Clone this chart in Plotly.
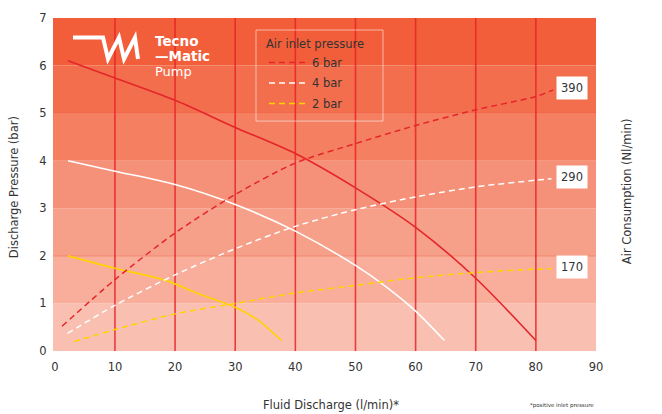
import plotly.graph_objects as go

# ---------------- data ----------------
flow_6bar = [2.2, 10, 20, 30, 40, 50, 60, 70, 80]
pressure_6bar = [6.1, 5.74, 5.27, 4.7, 4.15, 3.43, 2.6, 1.53, 0.22]

flow_4bar = [2.2, 10, 20, 30, 40, 50, 55, 60, 64.8]
pressure_4bar = [4.0, 3.78, 3.5, 3.08, 2.52, 1.8, 1.36, 0.84, 0.22]

flow_2bar = [2.2, 10, 18.3, 24, 30, 34, 37.7]
pressure_2bar = [2.0, 1.74, 1.49, 1.2, 0.92, 0.63, 0.22]

air_flow_6bar = [1.2, 10, 20, 30, 40, 50, 60, 70, 80, 82.9]
air_6bar = [0.52, 1.5, 2.48, 3.29, 3.95, 4.36, 4.74, 5.07, 5.35, 5.49]

air_flow_4bar = [2.1, 10, 20, 30, 40, 50, 60, 70, 80, 82.6]
air_4bar = [0.37, 0.96, 1.6, 2.15, 2.62, 2.97, 3.24, 3.45, 3.59, 3.62]

air_flow_2bar = [3.2, 10, 20, 30, 40, 50, 60, 70, 80, 82.6]
air_2bar = [0.2, 0.45, 0.78, 1.0, 1.22, 1.38, 1.54, 1.65, 1.72, 1.73]

series_names = ["6 bar", "4 bar", "2 bar"]
air_labels = ["390", "290", "170"]
label_x = 86

x_ticks = [0, 10, 20, 30, 40, 50, 60, 70, 80, 90]
y_ticks = [0, 1, 2, 3, 4, 5, 6, 7]
grid_x = [10, 20, 30, 40, 50, 60, 70, 80]
band_colors = ["#F9C0B1", "#F8AE9B", "#F6A08A", "#F59179", "#F47F61", "#F36E4D", "#F25E3A"]
band_lines = [2, 5]

# ---------------- styling ----------------
RED = "#E5252A"
WHITE = "#FFFFFF"
YELLOW = "#FFD200"
colors = [RED, WHITE, YELLOW]
FONT = "DejaVu Sans, Verdana, sans-serif"
TXT = "#333333"

fig = go.Figure()

solid = [(flow_6bar, pressure_6bar), (flow_4bar, pressure_4bar), (flow_2bar, pressure_2bar)]
dashed = [(air_flow_6bar, air_6bar), (air_flow_4bar, air_4bar), (air_flow_2bar, air_2bar)]

for (xs, ys), c, n in zip(solid, colors, series_names):
    fig.add_trace(go.Scatter(x=xs, y=ys, mode="lines", name=n, showlegend=False,
                             line=dict(color=c, width=1.6, shape="spline", smoothing=0.8),
                             hoverinfo="skip"))

for (xs, ys), c, n in zip(dashed, colors, series_names):
    fig.add_trace(go.Scatter(x=xs, y=ys, mode="lines", name=n, showlegend=True, legendgroup=n,
                             line=dict(color=c, width=1.5, dash="6px,4px", shape="spline", smoothing=0.8),
                             hoverinfo="skip"))


def px(xp, yp):
    """pixel position (reference picture) -> paper coordinates"""
    return (xp - 53) / 543, (350.7 - yp) / 332.7


shapes = []
# background bands
for i, col in enumerate(band_colors):
    shapes.append(dict(type="rect", xref="paper", yref="y", x0=0, x1=1, y0=y_ticks[i], y1=y_ticks[i + 1],
                       fillcolor=col, line=dict(width=0), layer="below"))
for yv in band_lines:
    shapes.append(dict(type="line", xref="paper", yref="y", x0=0, x1=1, y0=yv, y1=yv,
                       line=dict(color="rgba(238,85,55,0.55)", width=1), layer="below"))
# vertical red grid
for xv in grid_x:
    shapes.append(dict(type="line", xref="x", yref="paper", x0=xv, x1=xv, y0=0, y1=1,
                       line=dict(color="rgba(232,35,40,0.85)", width=1.6), layer="below"))

# legend frame
lx0, ly0 = px(256, 30)
lx1, ly1 = px(383, 121)
shapes.append(dict(type="rect", xref="paper", yref="paper", x0=lx0, x1=lx1, y0=ly1, y1=ly0,
                   line=dict(color="rgba(255,255,255,0.55)", width=1), fillcolor="rgba(0,0,0,0)",
                   layer="below"))

# logo mark
logo_pts = [(73, 37.5), (103, 37.5), (108, 59), (119, 37.5), (124, 59), (135, 37.5), (138, 59)]
path = ""
for k, (a, b) in enumerate(logo_pts):
    u, v = px(a, b)
    path += ("M" if k == 0 else "L") + f"{u:.4f},{v:.4f} "
shapes.append(dict(type="path", xref="paper", yref="paper", path=path.strip(),
                   line=dict(color=WHITE, width=4), layer="above"))

annotations = []
# air consumption value boxes
for (xs, ys), lab in zip(dashed, air_labels):
    annotations.append(dict(x=label_x, y=ys[-1], xref="x", yref="y", text=lab, showarrow=False,
                            font=dict(family=FONT, size=11.5, color=TXT), bgcolor="white",
                            borderpad=4, yshift=2))


def ann(xp, yp, text, size, color=TXT, angle=0, xanchor="center", family=FONT, weight=None):
    u, v = px(xp, yp)
    f = dict(family=family, size=size, color=color)
    if weight:
        f["weight"] = weight
    annotations.append(dict(x=u, y=v, xref="paper", yref="paper", text=text, showarrow=False,
                            textangle=angle, xanchor=xanchor, yanchor="middle", font=f))


ann(14, 187, "Discharge Pressure (bar)", 11.5, angle=-90)
ann(627, 191, "Air Consumption (Nl/min)", 11.5, angle=-90)
ann(331, 405, "Fluid Discharge (l/min)*", 11.5)
ann(596, 405, "*positive inlet pressure", 5.5, xanchor="right")
ann(153, 41, "Tecno", 13.5, color=WHITE, xanchor="left", family="DejaVu Sans", weight="bold")
ann(153, 56, "\u2014Matic", 13.5, color=WHITE, xanchor="left", family="DejaVu Sans", weight="bold")
ann(153, 71, "Pump", 13, color=WHITE, xanchor="left", family="DejaVu Sans")

lgx, lgy = px(264, 33)
fig.update_layout(
    width=662, height=414,
    margin=dict(l=53, r=66, t=18, b=63, pad=0),
    paper_bgcolor="white", plot_bgcolor="white",
    font=dict(family=FONT, size=11.5, color=TXT),
    shapes=shapes, annotations=annotations,
    legend=dict(title=dict(text="Air inlet pressure", font=dict(size=11.5, color=TXT)),
                x=lgx, y=lgy, xanchor="left", yanchor="top",
                bgcolor="rgba(0,0,0,0)", borderwidth=0,
                font=dict(size=11.5, color=TXT), itemwidth=38, tracegroupgap=1.5),
    xaxis=dict(range=[-0.3, 90], tickvals=x_ticks, showgrid=False, zeroline=False, showline=False,
               ticks="outside", ticklen=5, tickcolor="rgba(0,0,0,0)", tickfont=dict(size=11.5, color=TXT)),
    yaxis=dict(range=[0, 7], tickvals=y_ticks, showgrid=False, zeroline=False, showline=False,
               ticks="outside", ticklen=3, tickcolor="rgba(0,0,0,0)", tickfont=dict(size=11.5, color=TXT)),
)

fig.write_html("out.html", config={"displayModeBar": False},
               post_script="document.body.style.margin='0px';")
